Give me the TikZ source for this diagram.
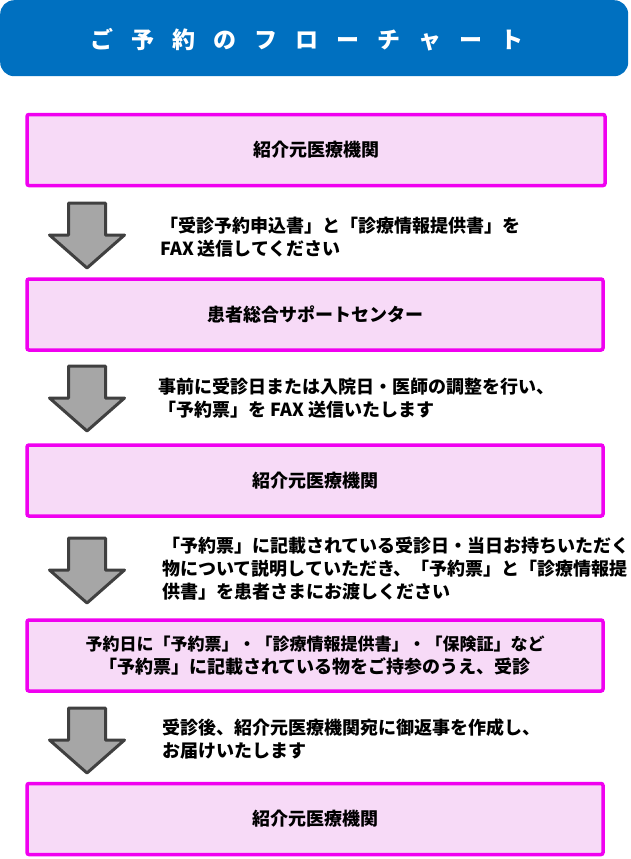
\documentclass[tikz,border=0pt]{standalone}
\usepackage{fontspec}
\setmainfont{Noto Sans CJK JP}
\definecolor{hdrblue}{RGB}{0,112,192}
\definecolor{boxpink}{RGB}{247,218,247}
\definecolor{boxline}{RGB}{240,0,240}
\definecolor{arrowgray}{RGB}{166,166,166}
\definecolor{arrowline}{RGB}{64,64,64}
\newcommand{\tsp}{\hspace{18pt}}
\tikzset{
  stepbox/.style={draw=boxline, line width=3.5pt, fill=boxpink, rounded corners=2pt,
    minimum width=578pt, minimum height=71pt, inner sep=0pt,
    font=\bfseries\fontsize{18}{23}\selectfont, align=center},
  note/.style={anchor=west, align=left, inner sep=0pt,
    font=\bfseries\fontsize{18}{23}\selectfont},
  bigarrow/.pic={
    \path[fill=arrowgray, draw=arrowline, line width=3pt, line join=round]
      (-18.5,0) -- (18.5,0) -- (18.5,32) -- (37.5,32) -- (0,65) -- (-37.5,32) -- (-18.5,32) -- cycle;
  }
}
\begin{document}
\begin{tikzpicture}[x=1pt,y=-1pt]
\useasboundingbox (0,0) rectangle (631,859);
% header
\node[fill=hdrblue, rounded corners=14pt, minimum width=628pt, minimum height=76pt,
      inner sep=0pt, anchor=north west] (hdr) at (0,0) {};
\node[text=white, font=\bfseries\fontsize{23}{26}\selectfont, inner sep=0pt] (title) at (307,40)
  {ご\tsp 予\tsp 約\tsp の\tsp フ\tsp ロ\tsp ー\tsp チ\tsp ャ\tsp ー\tsp ト};
% boxes
\node[stepbox] (b1) at (316,150) {紹介元医療機関};
\node[stepbox, minimum width=576pt] (b2) at (315,314.5) {患者総合サポートセンター};
\node[stepbox, minimum width=576pt] (b3) at (315,480.5) {紹介元医療機関};
\node[stepbox, minimum width=576pt] (b4) at (315,655.5)
  {{\fontsize{17}{23}\selectfont 予約日に「予約票」・「診療情報提供書」・「保険証」など}\\
   「予約票」に記載されている物をご持参のうえ、受診};
\node[stepbox, minimum width=576pt] (b5) at (315,819) {紹介元医療機関};
% arrows
\pic at (87,203) {bigarrow};
\pic at (87,366) {bigarrow};
\pic at (87,538) {bigarrow};
\pic at (87,708) {bigarrow};
% notes
\node[note] (n1) at (160,237.5) {「受診予約申込書」と「診療情報提供書」を\\FAX 送信してください};
\node[note] (n2) at (158,398) {事前に受診日または入院日・医師の調整を行い、\\「予約票」を FAX 送信いたします};
\node[note] (n3) at (162,569) {「予約票」に記載されている受診日・当日お持ちいただく\\物について説明していただき、「予約票」と「診療情報提\\供書」を患者さまにお渡しください};
\node[note] (n4) at (162,739) {受診後、紹介元医療機関宛に御返事を作成し、\\お届けいたします};
\end{tikzpicture}
\end{document}
